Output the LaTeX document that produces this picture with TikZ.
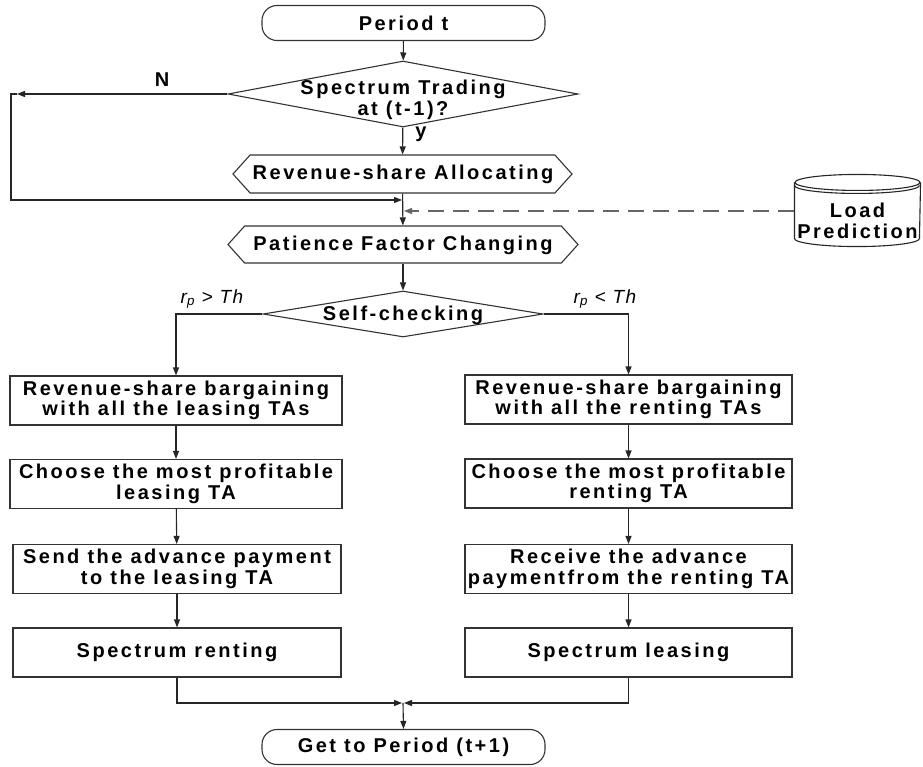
\documentclass[tikz,border=0pt]{standalone}
\usepackage{fontspec}
\newfontfamily\flowfont[LetterSpace=12.5]{Liberation Sans}
\newfontfamily\condfont[LetterSpace=8]{Liberation Sans}
\usetikzlibrary{shapes.geometric,shapes.symbols,arrows.meta,calc}

\begin{document}
\begin{tikzpicture}[x=1pt,y=-1pt,line width=1.1pt,
  lbl/.style={font=\flowfont\bfseries\fontsize{20}{20.5}\selectfont, text=black, inner sep=0pt, align=center},
  term/.style={lbl, draw=black!80, rounded corners=15pt, minimum width=283pt, minimum height=35pt},
  decision/.style={draw=black!80, diamond, inner sep=0pt},
  hexa/.style={draw=black!80, signal, signal to=west and east, signal pointer angle=96, inner sep=0pt, minimum height=38pt},
  stepbox/.style={lbl, draw=black!80, minimum height=49pt},
  cond/.style={font=\condfont\itshape\fontsize{19}{20}\selectfont, inner sep=0pt},
  arr/.style={draw=black!85, -{Triangle[length=8pt,width=6pt]}},
  link/.style={draw=black!85}
]
\fill[white] (0,0) rectangle (923,767);
\useasboundingbox (0,0) rectangle (923,767);

% main column
\node[term] (t1) at (403.5,23) {Period t};
\node[decision, minimum width=350pt, minimum height=66pt] (d1) at (403,94) {};
\node[lbl] (d1t) at (403,100) {Spectrum Trading\\at (t-1)?};
\node[hexa, minimum width=339pt] (h1) at (402.5,174) {};
\node[lbl] (h1t) at (403,174) {Revenue-share Allocating};
\node[hexa, minimum width=350pt, minimum height=37pt] (h2) at (403,244.5) {};
\node[lbl] (h2t) at (403,245) {Patience Factor Changing};
\node[decision, minimum width=280pt, minimum height=46pt] (d2) at (403,314) {};
\node[lbl] (d2t) at (403,315) {Self-checking};

% branch labels
\node[lbl] (nlab) at (162,80) {N};
\node[lbl] (ylab) at (421,134) {y};
\node[cond] (cl) at (212,299) {r\textsubscript{p} > Th};
\node[cond] (cr) at (605,299) {r\textsubscript{p} < Th};

% left column
\node[stepbox, minimum width=332pt] (l1) at (176,400.5) {Revenue-share bargaining\\with all the leasing TAs};
\node[stepbox, minimum width=332pt] (l2) at (176,484) {Choose the most profitable\\leasing TA};
\node[stepbox, minimum width=328pt] (l3) at (177,569) {Send the advance payment\\to the leasing TA};
\node[stepbox, minimum width=328pt] (l4) at (177,652.5) {Spectrum renting};

% right column
\node[stepbox, minimum width=327pt] (r1) at (628.5,399.5) {Revenue-share bargaining\\with all the renting TAs};
\node[stepbox, minimum width=327pt] (r2) at (628.5,483.5) {Choose the most profitable\\renting TA};
\node[stepbox, minimum width=327pt] (r3) at (628.5,569) {Receive the advance\\paymentfrom the renting TA};
\node[stepbox, minimum width=327pt] (r4) at (628.5,652.5) {Spectrum leasing};

\node[term] (t2) at (403.5,747) {Get to Period (t+1)};

% load prediction store
\node[minimum width=125pt, minimum height=71pt, inner sep=0pt] (cyl) at (857.5,210.5) {};
\draw[link] ($(cyl.north)+(0,8)$) ellipse [x radius=62.5, y radius=8];
\draw[link] ($(cyl.north west)+(0,11)$) arc[start angle=180, end angle=0, x radius=62.5, y radius=8];
\draw[link] ($(cyl.north west)+(0,8)$) -- ($(cyl.south west)+(0,-8)$)
  arc[start angle=180, end angle=0, x radius=62.5, y radius=8]
  -- ($(cyl.north east)+(0,8)$);
\node[lbl] (cylt) at (857.5,221) {Load\\Prediction};

% junction points
\coordinate (ntip) at (17,94);
\coordinate (ncor) at (11,94);
\coordinate (nbot) at (11,200);
\coordinate (jn) at (402,200);
\coordinate (jd) at (404,211);
\coordinate (jbl) at (402,703);
\coordinate (jbr) at (404,703);
\coordinate (jb) at (403,703);

% connectors
\draw[arr] (t1) -- (d1);
\draw[arr] (d1) -- (h1);
\draw[arr] (h1) -- (h2);
\draw[arr] (h2) -- (d2);
\draw[arr] (d1.west) -- (ntip);
\draw[arr] (ntip) -- (ncor) -- (nbot) -- (jn);
\draw[arr, draw=black!60, dash pattern=on 16pt off 9pt] (cyl.west |- jd) -- (jd);

\draw[arr] (d2.west) -| (l1.north);
\draw[arr] (d2.east) -| (r1.north);
\draw[arr] (l1) -- (l2);
\draw[arr] (l2) -- (l3);
\draw[arr] (l3) -- (l4);
\draw[arr] (r1) -- (r2);
\draw[arr] (r2) -- (r3);
\draw[arr] (r3) -- (r4);
\draw[arr] (l4.south) |- (jbl);
\draw[arr] (r4.south) |- (jbr);
\draw[arr] (jb) -- (t2.north);
\end{tikzpicture}
\end{document}
